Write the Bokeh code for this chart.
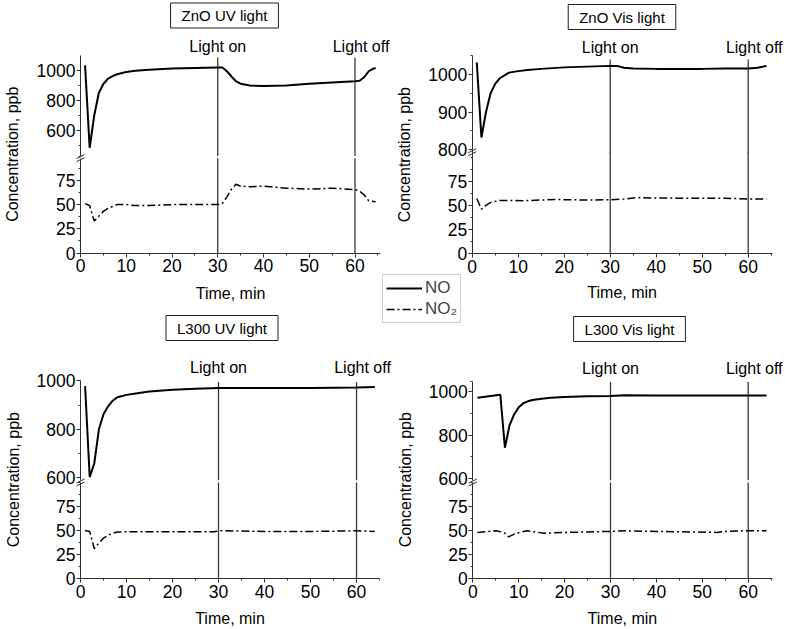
import math
from bokeh.plotting import figure
from bokeh.models import Range1d, LinearAxis, FixedTicker, Label, Legend, LegendItem
from bokeh.embed import file_html
from bokeh.resources import INLINE

# ---------------- data ----------------
titles = ["ZnO UV light", "ZnO Vis light", "L300 UV light", "L300 Vis light"]
light_on = 30
light_off = 60

x_ticks = [0, 10, 20, 30, 40, 50, 60]
x_minor = [5, 15, 25, 35, 45, 55, 65]
lo_ticks = [0, 25, 50, 75]
lo_minor = [12.5, 37.5, 62.5, 87.5, 100]

# ZnO UV light
zuv_t_no = [1, 2, 3, 4, 5, 6, 7, 8, 10, 12, 15, 20, 25, 30, 31, 32, 33, 34, 35, 37, 40, 45, 50, 55, 60, 61, 62, 63, 64, 64.5]
zuv_no = [1035, 485, 700, 850, 910, 945, 962, 975, 990, 998, 1005, 1013, 1017, 1020, 1020, 995, 960, 928, 912, 900, 897, 900, 912, 920, 928, 932, 955, 995, 1012, 1017]
zuv_t_no2 = [1, 2, 3, 4, 5, 6, 7, 8, 10, 12, 15, 20, 25, 30, 31, 32, 33, 34, 35, 37, 40, 45, 50, 55, 60, 61, 62, 63, 64.5]
zuv_no2 = [51, 49, 33, 38, 43, 46, 48, 50, 50, 49, 49, 50, 50, 50, 51, 58, 66, 71, 69, 68.5, 69, 67, 66, 67, 65.5, 64, 60, 54, 53]

# ZnO Vis light
zvis_t_no = [1, 2, 3, 4, 5, 6, 8, 10, 12, 15, 20, 25, 30, 31.5, 33, 35, 40, 45, 50, 55, 60, 62, 64]
zvis_no = [1032, 832, 900, 950, 975, 990, 1005, 1009, 1012, 1015, 1019, 1021, 1023, 1023, 1018, 1016, 1015, 1015, 1015, 1016, 1016, 1018, 1023]
zvis_t_no2 = [1, 2, 3, 4, 6, 8, 11, 15, 18, 25, 30, 33, 36, 40, 47, 55, 60, 64]
zvis_no2 = [57, 46, 50, 53, 55, 55, 54.7, 55.5, 56, 55.5, 55.7, 56.5, 58, 57.5, 57.4, 57.4, 56.5, 56.4]

# L300 UV light
luv_t_no = [1, 2, 3, 4, 5, 6, 7, 8, 10, 12, 15, 20, 25, 30, 40, 50, 55, 60, 64]
luv_no = [978, 603, 660, 800, 862, 895, 918, 932, 942, 948, 956, 963, 967, 970, 970, 970, 971, 972, 974]
luv_t_no2 = [1, 2, 3, 4, 5, 6, 7, 8, 10, 15, 20, 29, 30.5, 40, 50, 55, 60, 64]
luv_no2 = [50, 49, 31, 37, 42, 45, 47, 48.5, 48.6, 48.6, 48.6, 48.6, 49.7, 49, 49, 49.3, 49.7, 49]

# L300 Vis light
lvis_t_no = [1, 6, 7, 8, 9, 10, 11, 12, 13, 15, 17, 20, 25, 30, 33, 40, 50, 55, 60, 64]
lvis_no = [972, 986, 741, 845, 895, 928, 947, 956, 962, 968, 972, 976, 979, 981, 984, 983, 983, 983, 983, 983]
lvis_t_no2 = [1, 5, 6.8, 7.8, 9.3, 11.8, 15.5, 19.8, 25, 29.8, 33, 40, 47, 53.2, 55, 59, 64]
lvis_no2 = [48, 49.7, 48, 43.4, 47, 49.7, 47.2, 48, 48.5, 49, 49.7, 49, 48.5, 48, 49, 49.7, 49.7]

series = [
    (zuv_t_no, zuv_no, zuv_t_no2, zuv_no2),
    (zvis_t_no, zvis_no, zvis_t_no2, zvis_no2),
    (luv_t_no, luv_no, luv_t_no2, luv_no2),
    (lvis_t_no, lvis_no, lvis_t_no2, lvis_no2),
]
hi_ticks = [[600, 800, 1000], [800, 900, 1000], [600, 800, 1000], [600, 800, 1000]]
hi_minor = [[500, 700, 900], [850, 950, 1050], [700, 900], [700, 900, 1050]]
hi_bounds = [(430, 1100), (790, 1050), (590, 1000), (590, 1050)]
lo_bounds = [98, 105, 100, 100]
x_bounds = [65.6, 65.2, 65.0, 65.2]

# ---------------- layout geometry (page pixels) ----------------
W, H = 785, 629
OFF = 0
FONT = "Liberation Sans"

geo = [
    dict(x0=80.0, k=4.575, lo_y0=252.5, lo_s=0.968, hi_ref=1000, hi_y=70.0, hi_s=0.150,
         vtop=57, title=(224, 15), on_y=45.7, yt_x=11.5, xt_y=292.7),
    dict(x0=471.7, k=4.600, lo_y0=253.0, lo_s=0.964, hi_ref=1000, hi_y=74.0, hi_s=0.375,
         vtop=59, title=(621.5, 16.5), on_y=46.7, yt_x=404, xt_y=291.7),
    dict(x0=80.0, k=4.600, lo_y0=578.0, lo_s=0.960, hi_ref=1000, hi_y=380.3, hi_s=0.2425,
         vtop=381.5, title=(221.5, 327.5), on_y=367, yt_x=13, xt_y=618),
    dict(x0=472.3, k=4.590, lo_y0=578.0, lo_s=0.960, hi_ref=1000, hi_y=391.3, hi_s=0.216,
         vtop=381.5, title=(629, 328.5), on_y=368, yt_x=405, xt_y=618),
]


def sx(px):
    return px - OFF


def sy(py):
    return H - (py - OFF)


p = figure(width=W, height=H, x_range=Range1d(0, W), y_range=Range1d(0, H),
           x_axis_location=None, y_axis_location=None, min_border=0,
           outline_line_color=None, toolbar_location=None, output_backend="svg")
p.background_fill_color = "white"
p.border_fill_color = "white"
p.grid.visible = False

AX = "#303030"


def style_axis(ax):
    ax.axis_line_color = AX
    ax.axis_line_width = 1
    ax.major_tick_line_color = AX
    ax.minor_tick_line_color = AX
    ax.major_tick_out = 4
    ax.major_tick_in = 0
    ax.minor_tick_out = 2
    ax.minor_tick_in = 0
    ax.major_label_text_font = FONT
    ax.major_label_text_font_size = "17.5px"
    ax.major_label_text_color = "black"
    ax.major_label_standoff = 1


def text_label(**kw):
    base = dict(text_font=FONT, text_color="black", text_align="center", text_baseline="middle")
    base.update(kw)
    return Label(**base)


legend_refs = None
for i, g in enumerate(geo):
    kx = f"x{i}"
    klo = f"lo{i}"
    khi = f"hi{i}"
    p.extra_x_ranges[kx] = Range1d((OFF - g["x0"]) / g["k"], (OFF + W - g["x0"]) / g["k"])
    p.extra_y_ranges[klo] = Range1d(-(OFF + H - g["lo_y0"]) / g["lo_s"], (g["lo_y0"] - OFF) / g["lo_s"])
    p.extra_y_ranges[khi] = Range1d(g["hi_ref"] - (OFF + H - g["hi_y"]) / g["hi_s"],
                                    g["hi_ref"] + (g["hi_y"] - OFF) / g["hi_s"])

    xa = LinearAxis(x_range_name=kx, y_range_name=klo, fixed_location=0, bounds=(0, x_bounds[i]),
                    ticker=FixedTicker(ticks=x_ticks, minor_ticks=x_minor))
    style_axis(xa)
    xa.major_label_standoff = 2
    p.add_layout(xa, "below")
    ya = LinearAxis(x_range_name=kx, y_range_name=klo, fixed_location=0, bounds=(0, lo_bounds[i]),
                    ticker=FixedTicker(ticks=lo_ticks, minor_ticks=lo_minor))
    style_axis(ya)
    p.add_layout(ya, "left")
    yh = LinearAxis(x_range_name=kx, y_range_name=khi, fixed_location=0, bounds=hi_bounds[i],
                    ticker=FixedTicker(ticks=hi_ticks[i], minor_ticks=hi_minor[i]))
    style_axis(yh)
    p.add_layout(yh, "left")

    # light on/off vertical lines
    vtop_val = g["hi_ref"] + (g["hi_y"] - g["vtop"]) / g["hi_s"]
    for xv in (light_on, light_off):
        p.segment(x0=[xv], y0=[hi_bounds[i][0]], x1=[xv], y1=[vtop_val], x_range_name=kx,
                  y_range_name=khi, line_color="#3a3a3a", line_width=1.3)
        p.segment(x0=[xv], y0=[0], x1=[xv], y1=[lo_bounds[i]], x_range_name=kx,
                  y_range_name=klo, line_color="#3a3a3a", line_width=1.3)

    t_no, no, t_no2, no2 = series[i]
    r1 = p.line(t_no, no, x_range_name=kx, y_range_name=khi, line_color="black", line_width=2)
    r2 = p.line(t_no2, no2, x_range_name=kx, y_range_name=klo, line_color="black",
                line_width=1.5, line_dash="8 3 2 3")
    if legend_refs is None:
        legend_refs = (r1, r2)

    # axis break marks
    by = g["lo_y0"] - lo_bounds[i] * g["lo_s"]
    cx, cy = sx(g["x0"]), sy(by)
    p.segment(x0=[cx - 4, cx - 4], y0=[cy - 3.5, cy - 0.5], x1=[cx + 4, cx + 4], y1=[cy + 0.5, cy + 3.5],
              line_color=AX, line_width=1)

    # labels
    tx, ty = g["title"]
    p.add_layout(text_label(x=sx(tx), y=sy(ty), x_units="screen", y_units="screen", text=titles[i],
                            text_font_size="15px", border_line_color="#202020",
                            border_line_width=1, background_fill_color="white", padding=(11, 4)))
    p.add_layout(text_label(x=light_on, x_range_name=kx, y=sy(g["on_y"]), y_units="screen",
                            text="Light on", text_font_size="16px"))
    p.add_layout(text_label(x=light_off, x_range_name=kx, x_offset=6, y=sy(g["on_y"]), y_units="screen",
                            text="Light off", text_font_size="16px"))
    top_px = g["hi_y"] - (hi_bounds[i][1] - g["hi_ref"]) * g["hi_s"]
    mid_px = (top_px + g["lo_y0"]) / 2
    p.add_layout(text_label(x=sx(g["yt_x"]), y=sy(mid_px), x_units="screen", y_units="screen",
                            text="Concentration, ppb", angle=math.pi / 2, text_font_size="16px"))
    xc = g["x0"] + x_bounds[i] * g["k"] / 2
    p.add_layout(text_label(x=sx(xc), y=sy(g["xt_y"]), x_units="screen", y_units="screen",
                            text="Time, min", text_font_size="16px"))

legend = Legend(items=[LegendItem(label="NO", renderers=[legend_refs[0]]),
                       LegendItem(label="NO\u2082", renderers=[legend_refs[1]])],
                location=(sx(382), sy(323)), orientation="vertical", margin=0, padding=3,
                spacing=1, glyph_width=36, glyph_height=20, label_height=20, label_standoff=3,
                label_text_font=FONT, label_text_font_size="17px", border_line_color="#a0a0a0",
                border_line_width=1, background_fill_color="white")
p.add_layout(legend)

open("out.html", "w").write(file_html(p, INLINE))
